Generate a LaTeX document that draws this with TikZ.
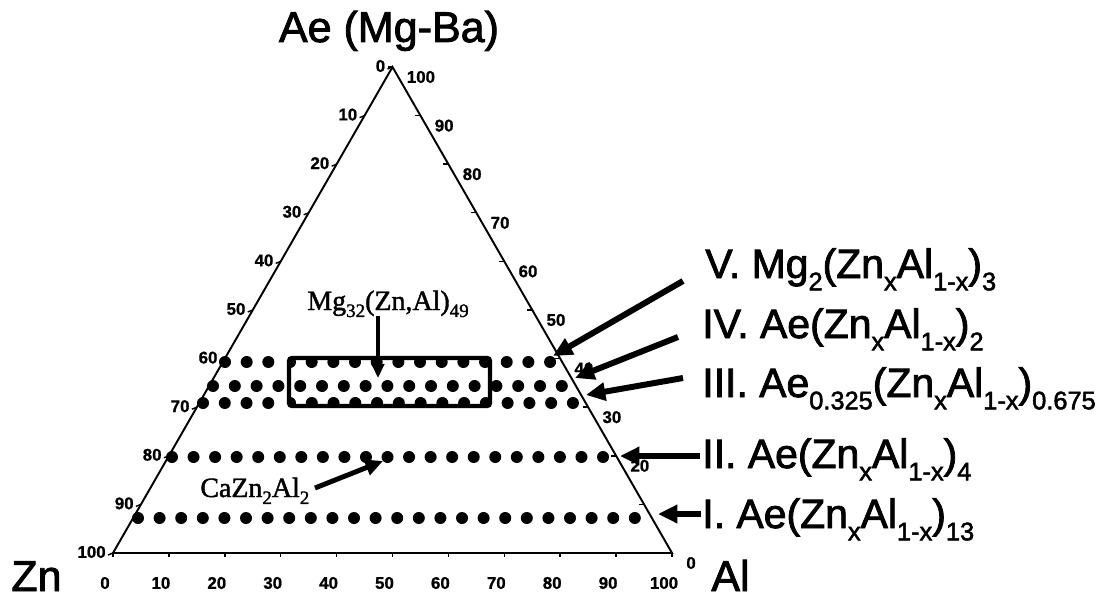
\documentclass[tikz,border=0pt]{standalone}
\usepackage{fontspec}
\setmainfont{Liberation Sans}
\newfontfamily\heavy{Liberation Sans}[FakeBold=2]
\newfontfamily\heavybf{Liberation Sans Bold}[FakeBold=1]
\newfontfamily\tnr{Liberation Serif}[FakeBold=1.5]
\usepackage{graphicx}
\usetikzlibrary{arrows.meta,calc}
\newcommand\lsub[1]{\raisebox{-0.3em}{\scalebox{0.62}{#1}}}
\newcommand\tsub[1]{\raisebox{-0.25em}{\scalebox{0.68}{#1}}}
\begin{document}
\begin{tikzpicture}[x=0.02cm,y=-0.02cm,
  edge/.style={line width=1.1pt,line join=miter},
  tickmark/.style={line width=0.8pt},
  bigarrow/.style={line width=3.4pt,-{Triangle[length=11pt,width=10pt]}},
  midarrow/.style={line width=2.8pt,-{Triangle[length=10pt,width=9pt]}},
  smallarrow/.style={line width=2.2pt,-{Triangle[length=8pt,width=7pt]}},
  ticklab/.style={font=\heavybf\fontsize{9.6}{9.6}\selectfont, inner sep=0pt},
  biglab/.style={font=\heavy\fontsize{23.3}{23.3}\selectfont, inner sep=0pt, anchor=base west},
  cornerlab/.style={font=\heavy\fontsize{24.5}{24.5}\selectfont, inner sep=0pt},
  serlab/.style={font=\tnr\fontsize{15.9}{15.9}\selectfont, inner sep=0pt, anchor=base west},
  box/.style={line width=2.3pt,rounded corners=1.5pt}]

\useasboundingbox (0,0) rectangle (1108,601);

% triangle
\coordinate (A) at (392.5,67);
\coordinate (Z) at (113,553);
\coordinate (L) at (672,553);
\draw[edge] (A) -- (Z) -- (L) -- cycle;

% left axis ticks and labels
\foreach \k in {0,...,10} {
  \pgfmathtruncatemacro{\v}{10*\k}
  \coordinate (le\k) at ($(A)!\k/10!(Z)$);
  \draw[tickmark] (le\k) -- ++(-5,2);
  \node[ticklab, anchor=east] (ll\k) at ($(le\k)+(-7,-1)$) {\v};
}
% right axis ticks and labels
\foreach \k in {0,...,10} {
  \coordinate (re\k) at ($(A)!\k/10!(L)$);
  \draw[tickmark] (re\k) -- ++(-5,0);
}
\foreach \k in {0,1,2,3,4,5,6,7,8,10} {
  \pgfmathtruncatemacro{\v}{100-10*\k}
  \node[ticklab, anchor=west] (rl\k) at ($(re\k)+(14,10)$) {\v};
}
% bottom axis ticks and labels
\foreach \k in {0,...,10} {
  \pgfmathtruncatemacro{\v}{10*\k}
  \coordinate (be\k) at ($(Z)!\k/10!(L)$);
  \draw[tickmark] (be\k) -- ++(0,4);
  \node[ticklab] (bl\k) at ($(be\k)+(-8,30)$) {\v};
}

% corner labels
\node[cornerlab, anchor=base] (ae) at (389,42) {Ae (Mg-Ba)};
\node[cornerlab, anchor=base west] (zn) at (11,591) {Zn};
\node[cornerlab, anchor=base west] (al) at (711,591) {Al};

% dot rows (rows V and III: dots inside the box are clipped by it)
\foreach \i in {0,1,2,13,14,15} \fill ({225+21.67*\i},362) circle (6);
\foreach \i in {0,...,16} \fill ({213+21.8*\i},386) circle (6);
\foreach \i in {0,1,2,3,14,15,16,17} \fill ({203+21.76*\i},403) circle (6);
\begin{scope}
  \clip (289,358) rectangle (490,406);
  \foreach \i in {3,...,12} \fill ({225+21.67*\i},362) circle (6);
  \foreach \i in {4,...,13} \fill ({203+21.76*\i},403) circle (6);
\end{scope}
\foreach \i in {0,...,20} \fill ({172+21.55*\i},457) circle (6);
\foreach \i in {0,...,23} \fill ({138+21.6*\i},518) circle (6);

% box
\draw[box] (289,358) rectangle (490,406);

% serif labels and arrows
\node[serlab] (mg) at (307,310) {Mg\tsub{32}(Zn,Al)\tsub{49}};
\coordinate (mgt) at (378,316);
\coordinate (mgh) at (378,378);
\draw[smallarrow] (mgt) -- (mgh);

\node[serlab] (ca) at (200,497) {CaZn\tsub{2}Al\tsub{2}};
\coordinate (cat) at (315,488);
\coordinate (cah) at (383,461);
\draw[midarrow] (cat) -- (cah);

% right labels
\node[biglab] (lV) at (705,278) {V. Mg\lsub{2}(Zn\lsub{x}Al\lsub{1-x})\lsub{3}};
\node[biglab] (lIV) at (702,338) {IV. Ae(Zn\lsub{x}Al\lsub{1-x})\lsub{2}};
\node[biglab] (lIII) at (702,397) {III. Ae\lsub{0.325}(Zn\lsub{x}Al\lsub{1-x})\lsub{0.675}};
\node[biglab] (lII) at (702,468) {II. Ae(Zn\lsub{x}Al\lsub{1-x})\lsub{4}};
\node[biglab] (lI) at (702,528) {I. Ae(Zn\lsub{x}Al\lsub{1-x})\lsub{13}};

\coordinate (tV) at (683,281);   \coordinate (hV) at (553,356);
\coordinate (tIV) at (678,337);  \coordinate (hIV) at (575,378);
\coordinate (tIII) at (683,378); \coordinate (hIII) at (586,395);
\coordinate (tII) at (700,456);  \coordinate (hII) at (620,456);
\coordinate (tI) at (701,514);   \coordinate (hI) at (658,514);
\draw[bigarrow] (tV) -- (hV);
\draw[bigarrow] (tIV) -- (hIV);
\draw[bigarrow] (tIII) -- (hIII);
\draw[bigarrow] (tII) -- (hII);
\draw[bigarrow] (tI) -- (hI);
\end{tikzpicture}
\end{document}
